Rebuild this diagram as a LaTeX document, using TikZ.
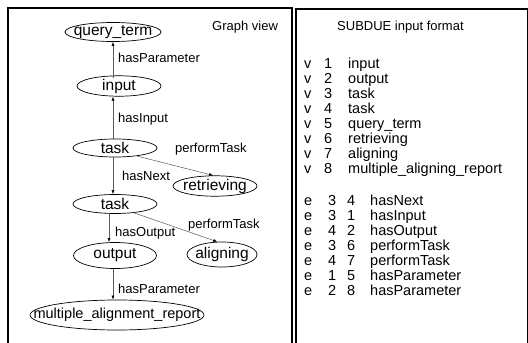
\documentclass[tikz,border=0pt]{standalone}
\usepackage{fontspec}
\setmainfont{Liberation Sans}
\usetikzlibrary{shapes.geometric,arrows.meta}
\newcommand{\zb}[1]{\makebox[0pt]{#1}}
\tikzset{
  gnode/.style={ellipse,draw=black,line width=0.7pt,inner sep=0pt,font=\fontsize{15.5}{15.5}\selectfont},
  elabel/.style={anchor=base west,inner sep=0pt,font=\fontsize{13}{13}\selectfont},
  arr/.style={draw=black!65,line width=0.5pt,-{Latex[length=4pt,width=3pt,black]}},
  frame/.style={line width=1.1pt},
  lst/.style={anchor=base west,inner sep=0pt,font=\fontsize{14.5}{14.5}\selectfont},
  ttl/.style={anchor=base west,inner sep=0pt,font=\fontsize{13}{13}\selectfont}
}
\begin{document}
\begin{tikzpicture}[x=1pt,y=-1pt]
\useasboundingbox[fill=white] (0,0) rectangle (528,343);
% frames
\draw[frame] (8,343) -- (8,8) -- (292,8) -- (292,343);
\draw[frame] (296,343) -- (296,9) -- (527.3,9) -- (527.3,343);
% graph nodes
\node[gnode,minimum width=96pt,minimum height=19pt] (qt) at (113,32) {\zb{query\_term}};
\node[gnode,minimum width=84pt,minimum height=18pt] (inp) at (119,86) {\zb{input}};
\node[gnode,minimum width=84pt,minimum height=18pt] (t1) at (115,148) {\zb{task}};
\node[gnode,minimum width=84pt,minimum height=18pt] (ret) at (215,186) {\zb{retrieving}};
\node[gnode,minimum width=84pt,minimum height=19pt] (t2) at (115,204) {\zb{task}};
\node[gnode,minimum width=83pt,minimum height=26pt] (out) at (115,255.5) {\zb{output}};
\node[gnode,minimum width=70pt,minimum height=25pt] (ali) at (222,254.5) {\zb{aligning}};
\node[gnode,minimum width=174pt,minimum height=30pt,font=\fontsize{14.5}{14.5}\selectfont] (mar) at (117,315) {\zb{multiple\_alignment\_report}};
\node[ttl] (gv) at (212,30) {Graph view};
% edges
\coordinate (a1) at (113,77.5);
\draw[arr] (a1) -- (qt.south -| a1);
\coordinate (a2) at (113,139.2);
\draw[arr] (a2) -- (a2 |- inp.south);
\coordinate (a3) at (113,156.8);
\draw[arr] (a3) -- (a3 |- t2.north);
\draw[arr] (t1.-20) -- (ret.100);
\coordinate (a5) at (109,213.4);
\draw[arr] (a5) -- (a5 |- out.north);
\draw[arr] (t2.-25) -- (ali.110);
\coordinate (a7) at (113,268.5);
\draw[arr] (a7) -- (a7 |- mar.north);
% edge labels
\node[elabel] (l1) at (118,62.5) {hasParameter};
\node[elabel] (l2) at (118,122.5) {hasInput};
\node[elabel] (l3) at (175,152.5) {performTask};
\node[elabel] (l4) at (122,180.5) {hasNext};
\node[elabel] (l5) at (115,236) {hasOutput};
\node[elabel] (l6) at (188,228.5) {performTask};
\node[elabel] (l7) at (118,293.5) {hasParameter};
% right panel
\node[ttl] (sub) at (337,30) {SUBDUE input format};
\foreach \i/\w [count=\k from 0] in {1/input,2/output,3/task,4/task,5/query\_term,6/retrieving,7/aligning,8/multiple\_aligning\_report}{
  \node[lst] (v\i) at (304,68.5+15*\k) {v};
  \node[lst] (vn\i) at (324,68.5+15*\k) {\i};
  \node[lst] (vw\i) at (348,68.5+15*\k) {\w};
}
\foreach \a/\b/\w [count=\k from 0] in {3/4/hasNext,3/1/hasInput,4/2/hasOutput,3/6/performTask,4/7/performTask,1/5/hasParameter,2/8/hasParameter}{
  \node[lst] (e\k) at (304,205+15*\k) {e};
  \node[lst] (ea\k) at (328,205+15*\k) {\a};
  \node[lst] (eb\k) at (347,205+15*\k) {\b};
  \node[lst] (ew\k) at (370,205+15*\k) {\w};
}
\end{tikzpicture}
\end{document}
